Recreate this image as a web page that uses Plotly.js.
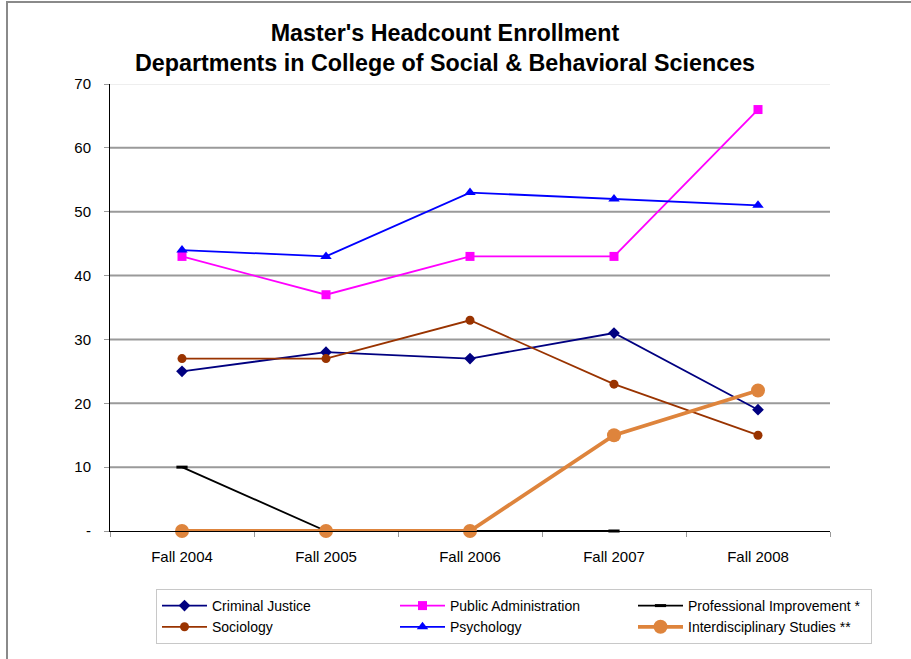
<!DOCTYPE html>
<html>
<head>
<meta charset="utf-8">
<script src="https://cdn.plot.ly/plotly-3.0.1.min.js"></script>
<style>
  html, body { margin: 0; padding: 0; background: #fff; }
  #wrap { position: relative; width: 911px; height: 659px; overflow: hidden; }
  #chart { width: 911px; height: 659px; }
  #frame { position: absolute; left: 6px; top: 1px; right: -10px; bottom: -10px;
           border-top: 2px solid #8a8a8a; border-left: 2px solid #8a8a8a; pointer-events: none; }
</style>
</head>
<body>
<div id="wrap">
  <div id="chart"></div>
  <div id="frame"></div>
</div>
<script>
const categories = ["Fall 2004", "Fall 2005", "Fall 2006", "Fall 2007", "Fall 2008"];
const criminalJustice = [25, 28, 27, 31, 19];
const publicAdministration = [43, 37, 43, 43, 66];
const professionalImprovement = [10, 0, 0, 0, null];
const sociology = [27, 27, 33, 23, 15];
const psychology = [44, 43, 53, 52, 51];
const interdisciplinary = [0, 0, 0, 15, 22];
const yTickVals = [0, 10, 20, 30, 40, 50, 60, 70];
const yTickText = ["-", "10", "20", "30", "40", "50", "60", "70"];

const FONT = "Liberation Sans, Arial, sans-serif";

function tr(name, y, color, symbol, size, lw, rank, extra) {
  return Object.assign({
    type: "scatter", mode: "lines+markers", name: name,
    x: categories, y: y, cliponaxis: false, legendrank: rank,
    line: { color: color, width: lw },
    marker: { color: color, symbol: symbol, size: size }
  }, extra || {});
}

const traces = [
  tr("Criminal Justice", criminalJustice, "#000080", "diamond", 9, 1.8, 1),
  tr("Public Administration", publicAdministration, "#FF00FF", "square", 9, 1.8, 2),
  tr("Professional Improvement *", professionalImprovement, "#000000", "line-ew", 9, 1.8, 3,
     { marker: { color: "#000000", symbol: "line-ew", size: 8, line: { color: "#000000", width: 3 } } }),
  tr("Sociology", sociology, "#993300", "circle", 9, 1.8, 4),
  tr("Psychology", psychology, "#0000FF", "triangle-up", 10, 1.8, 5),
  tr("Interdisciplinary Studies **", interdisciplinary, "#DE843C", "circle", 14, 3.8, 6)
];

const shapes = yTickVals.filter(v => v > 0).map(v => ({
  type: "line", xref: "paper", yref: "y", x0: 0, x1: 1, y0: v, y1: v, layer: "below",
  line: { color: v === 70 ? "#eeeeee" : "#9a9a9a", width: 2 }
}));

const layout = {
  width: 911, height: 659,
  paper_bgcolor: "#ffffff", plot_bgcolor: "#ffffff",
  margin: { l: 110, r: 81, t: 84, b: 128 },
  font: { family: FONT, size: 14, color: "#000" },
  title: {
    text: "<b>Master's Headcount Enrollment<br>Departments in College of Social & Behavioral Sciences</b>",
    font: { family: FONT, size: 23.3, color: "#000" },
    xref: "container", x: 445 / 911, xanchor: "center",
    yref: "container", y: 1 - 41 / 659, yanchor: "middle"
  },
  xaxis: {
    type: "category", range: [-0.5, 4.5],
    showline: true, linecolor: "#000", linewidth: 1,
    showgrid: false, zeroline: false,
    ticks: "outside", tickson: "boundaries", ticklen: 5, tickcolor: "#999",
    ticklabelstandoff: 12,
    tickfont: { family: FONT, size: 15, color: "#000" }
  },
  yaxis: {
    range: [0, 70], tickvals: yTickVals, ticktext: yTickText,
    showline: true, linecolor: "#000", linewidth: 1,
    showgrid: false, zeroline: false,
    ticks: "outside", ticklen: 5, tickcolor: "#999",
    ticklabelstandoff: 10,
    tickfont: { family: FONT, size: 15, color: "#000" }
  },
  shapes: shapes,
  showlegend: true,
  legend: {
    orientation: "h",
    xref: "container", yref: "container",
    x: 156 / 911, xanchor: "left",
    y: 1 - 589 / 659, yanchor: "top",
    bordercolor: "#c8c8c8", borderwidth: 1,
    font: { family: FONT, size: 14, color: "#000" },
    itemwidth: 45, entrywidth: 178, entrywidthmode: "pixels",
    traceorder: "normal"
  }
};

Plotly.newPlot("chart", traces, layout, { displayModeBar: false, staticPlot: true });
</script>
</body>
</html>
